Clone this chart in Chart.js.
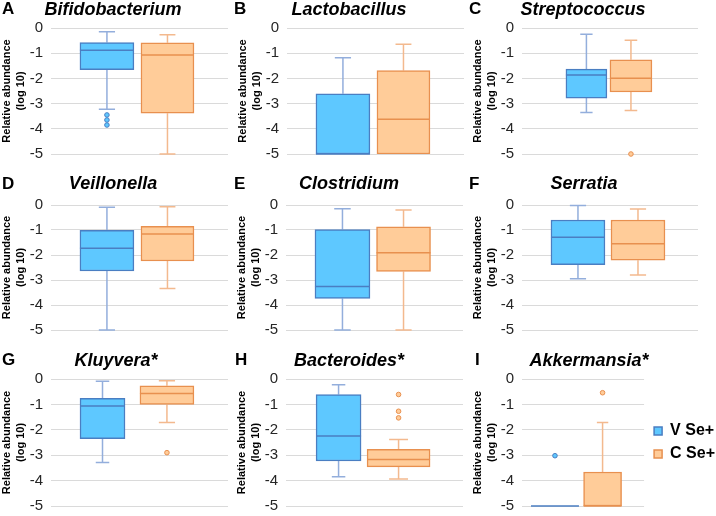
<!DOCTYPE html>
<html>
<head>
<meta charset="utf-8">
<script src="https://cdn.jsdelivr.net/npm/chart.js@4.4.0/dist/chart.umd.min.js"></script>
<style>
  html, body { margin: 0; padding: 0; background: #fff; overflow: hidden; }
  body { width: 716px; height: 516px; position: relative; font-family: Arial, 'Liberation Sans', sans-serif; }
  .panel { position: absolute; }
  .letter { position: absolute; font-weight: bold; font-size: 17px; line-height: 20px; color: #000; }
  .genus { position: absolute; font-weight: bold; font-style: italic; font-size: 18px; line-height: 20px; color: #000; white-space: nowrap; transform: translateX(-50%); }
</style>
</head>
<body>
<script>
var panelLetters = ['A', 'B', 'C', 'D', 'E', 'F', 'G', 'H', 'I'];
var genera = ['Bifidobacterium', 'Lactobacillus', 'Streptococcus', 'Veillonella', 'Clostridium',
              'Serratia', 'Kluyvera*', 'Bacteroides*', 'Akkermansia*'];
var groups = ['V Se+', 'C Se+'];
var yTicks = [0, -1, -2, -3, -4, -5];

// [lower whisker, Q1, median, Q3, upper whisker] per panel
var vSeBox = [
    [-3.22, -1.65, -0.88, -0.58, -0.15],
    [-5, -5, -5, -2.61, -1.18],
    [-3.35, -2.78, -1.87, -1.63, -0.25],
    [-5, -2.64, -1.73, -1.01, -0.09],
    [-5, -3.74, -3.26, -0.98, -0.15],
    [-2.95, -2.39, -1.29, -0.6, -0.02],
    [-3.29, -2.35, -1.06, -0.76, -0.09],
    [-3.85, -3.23, -2.24, -0.61, -0.23],
    [-5, -5, -5, -5, -5]
];
var cSeBox = [
    [-5, -3.38, -1.07, -0.59, -0.27],
    [-5, -5, -3.62, -1.69, -0.64],
    [-3.27, -2.54, -1.99, -1.26, -0.49],
    [-3.34, -2.24, -1.16, -0.85, -0.07],
    [-5, -2.66, -1.91, -0.87, -0.2],
    [-2.8, -2.21, -1.55, -0.6, -0.16],
    [-1.71, -1.0, -0.57, -0.27, -0.07],
    [-3.94, -3.46, -3.17, -2.77, -2.38],
    [-5, -5, -5, -3.66, -1.71]
];
var vSeOutliers = [[-3.45, -3.65, -3.85], [], [], [], [], [], [], [], [-3.02]];
var cSeOutliers = [[], [], [-5], [], [], [], [-2.9], [-0.61, -1.27, -1.53], [-0.54]];

// layout: plot area of each panel [left, top, right, bottom] in px
var plotAreas = [
    [51, 23, 228, 159], [287, 23, 464, 159], [522, 23, 698, 159],
    [51, 200, 228, 335], [286, 200, 463, 335], [522, 200, 698, 335],
    [51, 374, 228, 511], [286, 374, 463, 511], [522, 374, 644, 511]
];
// box centres as a fraction of the plot width, and box widths in px  [V, C]
var boxCentres = [
    [0.316, 0.658], [0.316, 0.658], [0.366, 0.619],
    [0.316, 0.658], [0.319, 0.664], [0.318, 0.659],
    [0.291, 0.655], [0.297, 0.636], [0.27, 0.66]
];
var boxWidths = [
    [54, 53], [54, 53], [41, 42],
    [54, 53], [55, 54], [54, 54],
    [45, 54], [45, 63], [48, 38]
];
var letterPos = [[2, -1], [234, -1], [469, -1], [2, 174], [234, 174], [469, 174], [2, 350], [235, 350], [475, 350]];
var titlePos = [[113, -1], [349, -1], [583, -1], [113, 173], [349, 173], [584, 173], [116, 350], [349, 350], [589, 350]];

var FONT = "Arial, 'Liberation Sans', sans-serif";
var AXIS_W = 51, PAD_T = 12, PAD_B = 12, PAD_R = 4;

var styles = [
    { fill: '#5EC8FF', line: '#4A7EC2', whisker: '#93AEDC' },
    { fill: '#FFCC99', line: '#E8904F', whisker: '#F3B98E' }
];

// whiskers behind the boxes, medians and outliers on top
var boxPlotPlugin = {
    id: 'boxPlot',
    beforeDatasetsDraw: function (chart) {
        var ctx = chart.ctx, y = chart.scales.y;
        chart.data.datasets.forEach(function (ds, i) {
            var p = chart.getDatasetMeta(i).data[0].getProps(['x', 'width'], true);
            var s = ds.stats, cap = p.width * 0.3;
            ctx.save();
            ctx.strokeStyle = ds.whiskerColor;
            ctx.lineWidth = 1.5;
            [[s[0], s[1]], [s[4], s[3]]].forEach(function (w) {
                if (w[0] === w[1]) return;
                var yEnd = y.getPixelForValue(w[0]), yBox = y.getPixelForValue(w[1]);
                ctx.beginPath();
                ctx.moveTo(p.x, yBox);
                ctx.lineTo(p.x, yEnd);
                ctx.moveTo(p.x - cap / 2, yEnd);
                ctx.lineTo(p.x + cap / 2, yEnd);
                ctx.stroke();
            });
            ctx.restore();
        });
    },
    afterDatasetsDraw: function (chart) {
        var ctx = chart.ctx, y = chart.scales.y;
        chart.data.datasets.forEach(function (ds, i) {
            var p = chart.getDatasetMeta(i).data[0].getProps(['x', 'width'], true);
            var ym = y.getPixelForValue(ds.stats[2]);
            ctx.save();
            ctx.strokeStyle = ds.borderColor;
            ctx.lineWidth = 1.5;
            ctx.beginPath();
            ctx.moveTo(p.x - p.width / 2, ym);
            ctx.lineTo(p.x + p.width / 2, ym);
            ctx.stroke();
            ds.outliers.forEach(function (v) {
                ctx.beginPath();
                ctx.arc(p.x, y.getPixelForValue(v), 2.3, 0, Math.PI * 2);
                ctx.fillStyle = ds.backgroundColor;
                ctx.fill();
                ctx.lineWidth = 1;
                ctx.stroke();
            });
            ctx.restore();
        });
    }
};

function makeDataset(g, i, box, outliers) {
    return {
        label: groups[g],
        data: [{ x: boxCentres[i][g], y: [box[1], box[3]] }],
        stats: box,
        outliers: outliers,
        backgroundColor: styles[g].fill,
        borderColor: styles[g].line,
        whiskerColor: styles[g].whisker,
        borderWidth: 1.5,
        borderSkipped: false,
        grouped: false,
        barThickness: boxWidths[i][g]
    };
}

panelLetters.forEach(function (letter, i) {
    var a = plotAreas[i];
    var withLegend = (i === 8);
    var left = a[0] - AXIS_W, top = a[1] - PAD_T;
    var width = AXIS_W + (a[2] - a[0]) + (withLegend ? 81 : PAD_R);
    var height = PAD_T + (a[3] - a[1]) + PAD_B;

    var canvas = document.createElement('canvas');
    canvas.className = 'panel';
    canvas.width = width;
    canvas.height = height;
    canvas.style.left = left + 'px';
    canvas.style.top = top + 'px';
    canvas.style.width = width + 'px';
    canvas.style.height = height + 'px';
    document.body.appendChild(canvas);

    var scales = {
        x: { type: 'linear', min: 0, max: 1, offset: false, display: false },
        y: {
            min: Math.min.apply(null, yTicks),
            max: Math.max.apply(null, yTicks),
            afterFit: function (s) { s.width = AXIS_W; },
            afterBuildTicks: function (s) { s.ticks = yTicks.map(function (v) { return { value: v }; }); },
            ticks: { padding: 8, color: '#262626', font: { family: FONT, size: 15 } },
            grid: { color: '#DADADA', lineWidth: 1, drawTicks: false },
            border: { display: false },
            title: {
                display: true,
                text: ['Relative abundance', '(log 10)'],
                color: '#000',
                padding: 0,
                font: { family: FONT, size: 11, weight: 'bold', lineHeight: 1.27 }
            }
        }
    };
    if (withLegend) {
        scales.y2 = {
            type: 'linear', position: 'right',
            ticks: { display: false }, grid: { display: false }, border: { display: false },
            afterFit: function (s) { s.width = 3; }
        };
    }

    new Chart(canvas, {
        type: 'bar',
        data: {
            datasets: [
                makeDataset(0, i, vSeBox[i], vSeOutliers[i]),
                makeDataset(1, i, cSeBox[i], cSeOutliers[i])
            ]
        },
        options: {
            responsive: false,
            animation: false,
            devicePixelRatio: 1,
            layout: { padding: { top: PAD_T, bottom: PAD_B, left: 0, right: withLegend ? 0 : PAD_R } },
            scales: scales,
            plugins: {
                tooltip: { enabled: false },
                legend: {
                    display: withLegend,
                    position: 'right',
                    fullSize: false,
                    align: 'center',
                    maxWidth: 100,
                    labels: {
                        boxWidth: 8, boxHeight: 8, padding: 7, color: '#000',
                        font: { family: FONT, size: 16, weight: 'bold' }
                    }
                }
            }
        },
        plugins: [boxPlotPlugin]
    });

    var l = document.createElement('div');
    l.className = 'letter';
    l.textContent = letter;
    l.style.left = letterPos[i][0] + 'px';
    l.style.top = letterPos[i][1] + 'px';
    document.body.appendChild(l);

    var t = document.createElement('div');
    t.className = 'genus';
    t.textContent = genera[i];
    t.style.left = titlePos[i][0] + 'px';
    t.style.top = titlePos[i][1] + 'px';
    document.body.appendChild(t);
});
</script>
</body>
</html>
